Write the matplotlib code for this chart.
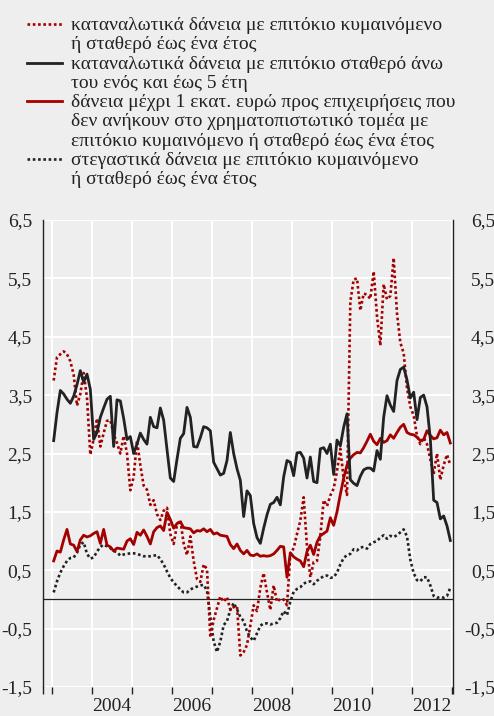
"""
Greek loan interest rate series 2003-2012 (four series, monthly),
drawn with a text legend above the plot area.
"""

import numpy as np
import matplotlib.pyplot as plt
import matplotlib.transforms as mtransforms
from matplotlib.lines import Line2D
from matplotlib.ticker import FixedLocator

START_YEAR = 2003

consumer_floating = [
    3.75, 4.15, 4.20, 4.25, 4.20, 4.08, 3.85, 3.32, 3.52, 3.88, 3.45, 2.48,
    2.75, 3.10, 2.62, 2.85, 3.06, 3.07, 2.83, 2.68, 2.50, 2.80, 2.50, 1.87,
    2.10, 2.72, 2.30, 1.95, 1.88, 1.62, 1.70, 1.46, 1.36, 1.52, 1.57, 1.12,
    0.95, 1.28, 1.36, 0.96, 0.76, 1.08, 0.66, 0.35, 0.30, 0.60, 0.52, -0.65,
    -0.35, -0.15, 0.05, -0.04, 0.04, -0.18, -0.13, -0.12, -0.96, -0.90, -0.78, -0.45,
    -0.10, -0.20, 0.20, 0.45, 0.12, -0.18, 0.24, -0.04, 0.01, 0.00, -0.10, 0.78,
    0.88, 1.12, 1.35, 1.75, 0.90, 0.38, 0.64, 0.66, 1.08, 1.70, 1.60, 1.78,
    1.90, 2.20, 2.58, 2.07, 1.79, 5.10, 5.48, 5.50, 4.95, 5.24, 5.22, 5.15,
    5.62, 4.85, 4.35, 5.40, 5.14, 5.20, 5.85, 4.90, 4.40, 4.22, 3.62, 3.30,
    3.15, 2.80, 2.66, 2.77, 2.66, 2.40, 2.15, 2.50, 2.05, 2.30, 2.48, 2.30,
]

consumer_fixed = [
    2.72, 3.20, 3.58, 3.52, 3.43, 3.36, 3.48, 3.68, 3.92, 3.72, 3.86, 3.60,
    2.74, 2.86, 3.12, 3.28, 3.43, 3.48, 2.62, 3.42, 3.40, 3.10, 2.74, 2.79,
    2.50, 2.66, 2.85, 2.74, 2.66, 3.12, 2.96, 2.94, 3.28, 3.07, 2.57, 2.08,
    2.02, 2.40, 2.76, 2.84, 3.29, 3.12, 2.62, 2.61, 2.77, 2.96, 2.94, 2.89,
    2.35, 2.24, 2.13, 2.16, 2.38, 2.86, 2.50, 2.24, 2.04, 1.42, 1.86, 1.78,
    1.30, 1.06, 0.96, 1.22, 1.45, 1.63, 1.66, 1.75, 1.62, 2.10, 2.38, 2.35,
    2.12, 2.51, 2.52, 2.42, 2.08, 2.44, 2.02, 2.00, 2.58, 2.60, 2.50, 2.66,
    2.14, 2.73, 2.63, 2.95, 3.18, 2.05, 1.99, 1.95, 2.11, 2.22, 2.25, 2.25,
    2.20, 2.55, 2.40, 3.12, 3.49, 3.33, 3.22, 3.75, 3.94, 3.98, 3.76, 3.45,
    3.55, 3.08, 3.46, 3.50, 3.30, 2.75, 1.70, 1.66, 1.38, 1.43, 1.26, 1.01,
]

business_loans = [
    0.66, 0.83, 0.81, 1.02, 1.20, 0.95, 0.93, 0.82, 1.02, 1.10, 1.07, 1.09,
    1.13, 1.16, 0.96, 1.20, 0.93, 0.90, 0.83, 0.88, 0.87, 0.86, 1.00, 1.04,
    0.94, 1.15, 1.10, 1.19, 1.08, 0.95, 1.16, 1.23, 1.26, 1.18, 1.49, 1.37,
    1.22, 1.30, 1.33, 1.23, 1.22, 1.21, 1.14, 1.18, 1.17, 1.21, 1.16, 1.20,
    1.12, 1.14, 1.10, 1.09, 1.08, 0.94, 0.87, 0.95, 0.84, 0.78, 0.84, 0.76,
    0.75, 0.78, 0.74, 0.75, 0.74, 0.75, 0.78, 0.84, 0.91, 0.90, 0.38, 0.80,
    0.73, 0.69, 0.66, 0.56, 0.82, 0.93, 0.77, 0.98, 1.09, 1.13, 1.17, 1.40,
    1.27, 1.50, 1.80, 2.08, 2.30, 2.42, 2.48, 2.52, 2.51, 2.60, 2.71, 2.83,
    2.71, 2.65, 2.76, 2.69, 2.72, 2.82, 2.76, 2.86, 2.95, 3.00, 2.86, 2.83,
    2.82, 2.78, 2.72, 2.74, 2.89, 2.81, 2.75, 2.77, 2.90, 2.82, 2.86, 2.68,
]

housing_floating = [
    0.12, 0.31, 0.46, 0.57, 0.66, 0.71, 0.72, 0.80, 0.94, 0.98, 0.78, 0.70,
    0.72, 0.82, 0.90, 0.94, 0.91, 0.88, 0.83, 0.81, 0.75, 0.77, 0.78, 0.79,
    0.79, 0.78, 0.76, 0.74, 0.74, 0.74, 0.75, 0.76, 0.69, 0.60, 0.48, 0.37,
    0.29, 0.23, 0.17, 0.12, 0.12, 0.17, 0.20, 0.22, 0.24, 0.25, 0.15, -0.30,
    -0.72, -0.90, -0.72, -0.44, -0.37, -0.18, -0.06, -0.17, -0.30, -0.37, -0.55, -0.65,
    -0.71, -0.58, -0.45, -0.41, -0.41, -0.43, -0.41, -0.40, -0.32, -0.20, -0.27, -0.04,
    0.13, 0.18, 0.21, 0.27, 0.30, 0.31, 0.26, 0.32, 0.36, 0.40, 0.41, 0.37,
    0.38, 0.46, 0.60, 0.71, 0.76, 0.78, 0.86, 0.84, 0.89, 0.90, 0.87, 0.95,
    0.98, 1.00, 1.06, 1.10, 1.04, 1.09, 1.07, 1.10, 1.15, 1.20, 1.08, 0.68,
    0.45, 0.33, 0.31, 0.38, 0.38, 0.24, 0.06, 0.03, 0.04, 0.03, 0.06, 0.20,
]

y_ticks = [6.5, 5.5, 4.5, 3.5, 2.5, 1.5, 0.5, -0.5, -1.5]
year_labels = [2004, 2006, 2008, 2010, 2012]

legend_labels = [
    ['καταναλωτικά δάνεια με επιτόκιο κυμαινόμενο',
     'ή σταθερό έως ένα έτος'],
    ['καταναλωτικά δάνεια με επιτόκιο σταθερό άνω',
     'του ενός και έως 5 έτη'],
    ['δάνεια μέχρι 1 εκατ. ευρώ προς επιχειρήσεις που',
     'δεν ανήκουν στο χρηματοπιστωτικό τομέα με',
     'επιτόκιο κυμαινόμενο ή σταθερό έως ένα έτος'],
    ['στεγαστικά δάνεια με επιτόκιο κυμαινόμενο',
     'ή σταθερό έως ένα έτος'],
]

RED = '#a30000'
BLACK = '#222222'
BG = '#eeeeee'
DOT = (0, (1, 1))
FS = 14

plt.rcParams['font.family'] = ['Liberation Serif', 'DejaVu Serif']
plt.rcParams['font.size'] = FS


def month_axis(n: int) -> np.ndarray:
    '''
    Mid-month positions in decimal years, starting January START_YEAR
    '''
    return START_YEAR + (np.arange(n) + 0.5) / 12


def draw_legend(fig) -> None:
    '''
    Legend above the axes: line sample + multi line text per series
    '''
    styles = [dict(color=RED, lw=1.9, ls=DOT),
              dict(color=BLACK, lw=2.0, ls='-'),
              dict(color=RED, lw=2.0, ls='-'),
              dict(color=BLACK, lw=1.9, ls=DOT)]
    W, H = fig.get_size_inches() * fig.dpi
    base = 30.0   # baseline of first text line, px from top
    step = 19.3   # line spacing in px
    row = 0
    for style, lines in zip(styles, legend_labels):
        ymid = H - (base - 6 + row * step)
        fig.add_artist(Line2D([27 / W, 62 / W], [ymid / H, ymid / H],
                              transform=fig.transFigure, **style))
        for line in lines:
            fig.text(71 / W, (H - (base + row * step)) / H, line,
                     ha='left', va='baseline', color=BLACK)
            row += 1


def plot_rates(image_name: str) -> None:
    '''
    Draws the four series and saves the figure
    '''
    fig = plt.figure(figsize=(4.94, 7.16), dpi=100, facecolor=BG)
    ax = fig.add_axes([43 / 494, 29 / 716, 410 / 494, 467 / 716])
    ax.set_facecolor(BG)

    x = month_axis(len(consumer_fixed))
    ax.axhline(0, color=BLACK, lw=0.9, zorder=2)
    ax.plot(x, housing_floating, color=BLACK, lw=1.9, ls=DOT, zorder=3)
    ax.plot(x, consumer_floating, color=RED, lw=1.9, ls=DOT, zorder=3)
    ax.plot(x, business_loans, color=RED, lw=2.0, zorder=4)
    ax.plot(x, consumer_fixed, color=BLACK, lw=2.0, zorder=5)

    ax.set_xlim(2002.775, 2013.025)
    ax.set_ylim(-1.5, 6.5)

    # year boundaries: white grid, black ticks below, labels mid-year
    ax.xaxis.set_major_locator(FixedLocator(
        [2002.775] + list(range(2003, 2014)) + [2013.025]))
    ax.xaxis.set_minor_locator(FixedLocator([y + 0.5 for y in year_labels]))
    ax.set_xticklabels([], minor=False)
    ax.set_xticklabels([str(y) for y in year_labels], minor=True)
    ax.tick_params(axis='x', which='major', length=5, width=1,
                   color=BLACK, direction='out')
    ax.tick_params(axis='x', which='minor', length=0, pad=8,
                   labelsize=FS, labelcolor=BLACK)

    ax.set_yticks(y_ticks)
    ax.set_yticklabels([f'{v:.1f}'.replace('.', ',') for v in y_ticks])
    ax.tick_params(axis='y', length=0, pad=8, labelsize=FS,
                   labelcolor=BLACK, labelleft=True, labelright=True)

    # right labels: right aligned near the figure edge (x = 492 px)
    shift = mtransforms.ScaledTranslation((492 - 453 - 8) / 100, 0,
                                          fig.dpi_scale_trans)
    for tick in ax.yaxis.get_major_ticks():
        tick.label2.set_horizontalalignment('right')
        tick.label2.set_transform(tick.label2.get_transform() + shift)

    ax.grid(True, which='major', color='white', lw=1.4, zorder=0)
    ax.set_axisbelow(True)

    for side in ['top', 'bottom']:
        ax.spines[side].set_visible(False)
    for side in ['left', 'right']:
        ax.spines[side].set_color(BLACK)
        ax.spines[side].set_linewidth(1.0)

    draw_legend(fig)
    fig.savefig(image_name, dpi=100, facecolor=BG)


def main():
    plot_rates('out.png')


if __name__ == "__main__":
    main()
